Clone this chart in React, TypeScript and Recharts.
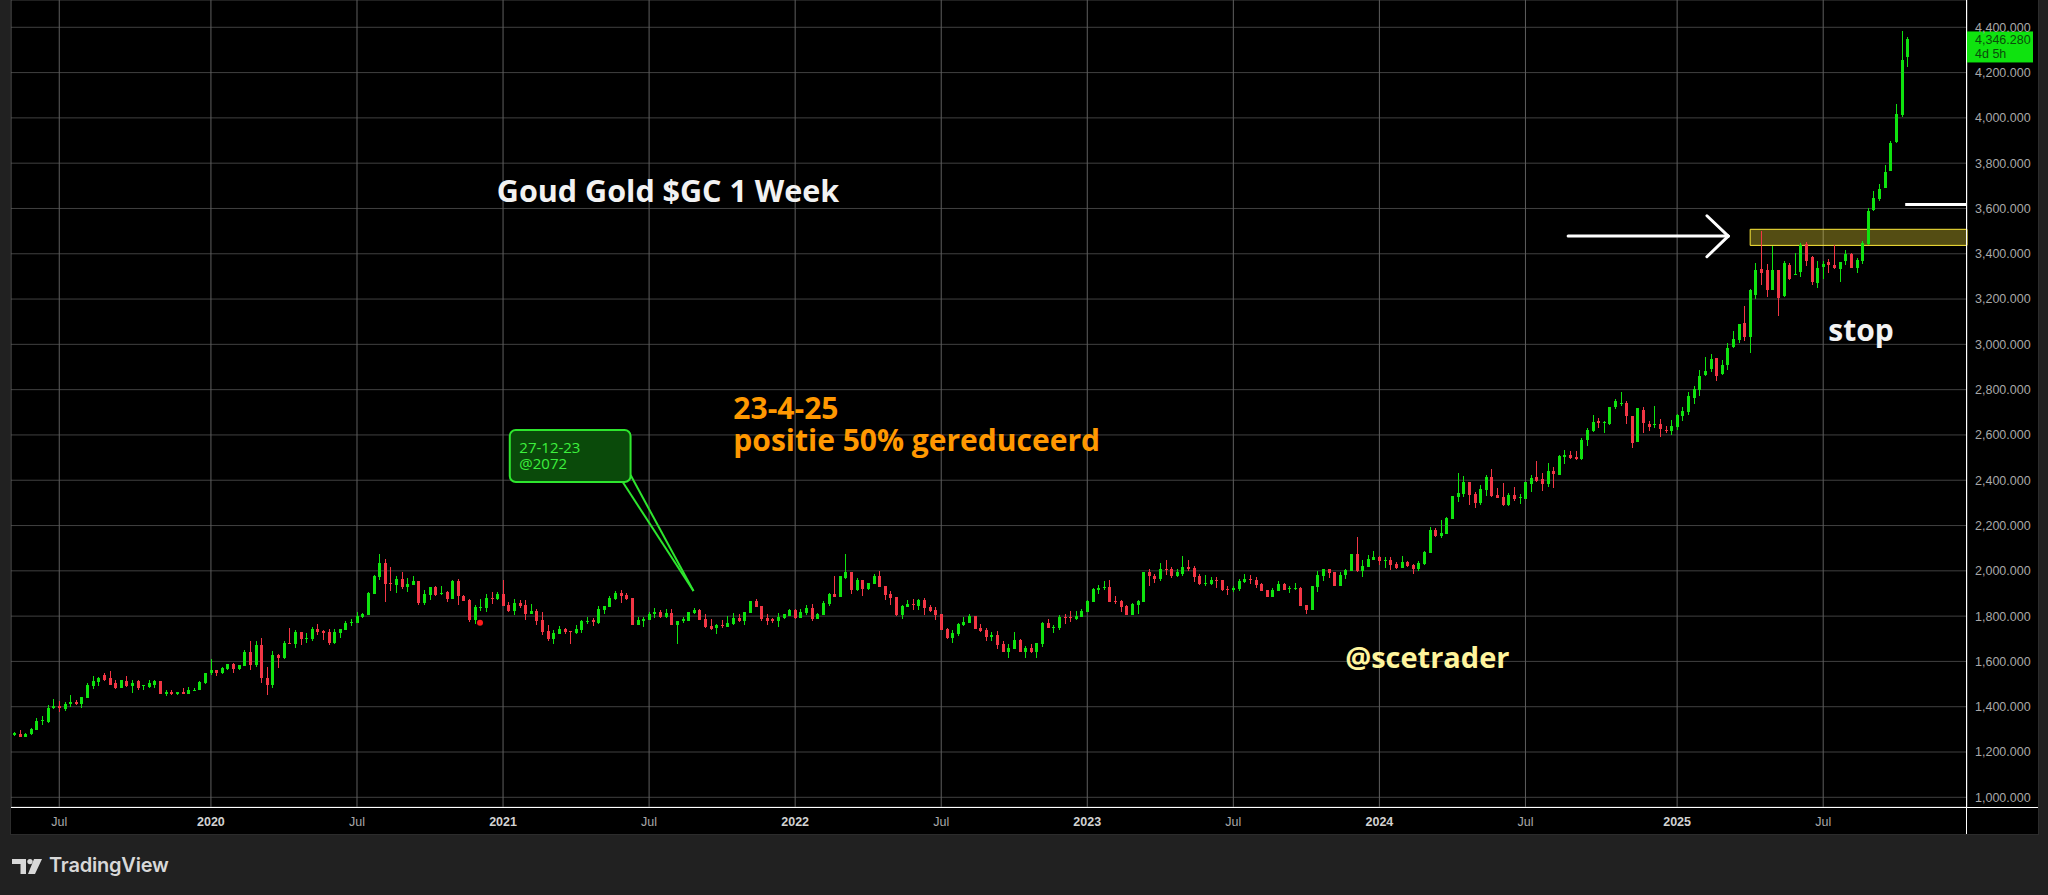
import React from 'react';
import {
  ComposedChart,
  Bar,
  XAxis,
  YAxis,
  CartesianGrid,
  ReferenceArea,
  ReferenceLine,
  ReferenceDot,
} from 'recharts';

// weekly GC candles, first bar = week of 6 May 2019
const START = '2019-05-06';

const opens = [
  1273, 1281, 1268, 1278, 1299, 1336, 1333, 1394, 1405, 1391, 1410, 1423, 1410, 1438, 1490, 1507, 1538, 1525, 1503, 1481,
  1512, 1490, 1512, 1490, 1485, 1498, 1512, 1454, 1467, 1458, 1463, 1454, 1472, 1472, 1503, 1547, 1560, 1551, 1565, 1587,
  1565, 1578, 1640, 1582, 1671, 1529, 1494, 1627, 1613, 1680, 1675, 1728, 1697, 1697, 1742, 1733, 1728, 1680, 1724, 1737,
  1768, 1768, 1795, 1804, 1897, 1972, 2034, 1945, 1936, 1966, 1930, 1939, 1953, 1859, 1895, 1930, 1899, 1908, 1877, 1953,
  1890, 1873, 1784, 1837, 1837, 1881, 1877, 1899, 1850, 1824, 1859, 1850, 1810, 1824, 1784, 1735, 1699, 1721, 1744, 1735,
  1726, 1739, 1775, 1784, 1770, 1828, 1841, 1877, 1904, 1895, 1881, 1761, 1779, 1784, 1810, 1819, 1797, 1815, 1761, 1779,
  1779, 1815, 1828, 1788, 1757, 1748, 1761, 1753, 1766, 1793, 1779, 1815, 1868, 1846, 1793, 1788, 1779, 1793, 1801, 1828,
  1793, 1815, 1837, 1788, 1806, 1855, 1899, 1886, 1970, 1993, 1917, 1961, 1921, 1944, 1975, 1935, 1899, 1886, 1806, 1841,
  1855, 1846, 1873, 1841, 1828, 1810, 1744, 1704, 1721, 1761, 1770, 1801, 1748, 1739, 1708, 1717, 1677, 1641, 1655, 1695,
  1641, 1659, 1641, 1677, 1770, 1748, 1748, 1797, 1797, 1788, 1797, 1819, 1864, 1917, 1926, 1930, 1868, 1868, 1846, 1806,
  1850, 1864, 1993, 1979, 1966, 2010, 2006, 1979, 1987, 2017, 2013, 1978, 1943, 1943, 1960, 1960, 1920, 1916, 1920, 1951,
  1965, 1960, 1943, 1916, 1885, 1912, 1943, 1920, 1920, 1925, 1850, 1828, 1929, 1978, 2009, 1995, 1934, 1982, 2000, 2075,
  2000, 2017, 2048, 2061, 2044, 2048, 2031, 2013, 2039, 2026, 2009, 2031, 2079, 2180, 2154, 2163, 2229, 2326, 2339, 2392,
  2339, 2299, 2357, 2414, 2335, 2326, 2291, 2335, 2321, 2317, 2383, 2414, 2405, 2383, 2440, 2423, 2502, 2512, 2503, 2494,
  2578, 2618, 2662, 2653, 2649, 2724, 2737, 2742, 2684, 2569, 2710, 2649, 2644, 2649, 2622, 2618, 2635, 2684, 2702, 2763,
  2799, 2865, 2891, 2940, 2869, 2909, 2988, 3019, 3094, 3032, 3218, 3332, 3328, 3240, 3328, 3213, 3350, 3306, 3319, 3443,
  3385, 3271, 3341, 3363, 3350, 3332, 3368, 3399, 3337, 3368, 3443, 3593, 3641, 3690, 3765, 3893, 4012, 4268,
];

const highs = [
  1290, 1299, 1286, 1305, 1348, 1357, 1408, 1436, 1426, 1422, 1450, 1430, 1445, 1506, 1534, 1531, 1550, 1556, 1520, 1516,
  1534, 1516, 1516, 1498, 1516, 1516, 1512, 1472, 1476, 1463, 1481, 1485, 1481, 1512, 1551, 1609, 1560, 1574, 1587, 1591,
  1582, 1649, 1689, 1689, 1702, 1574, 1644, 1631, 1689, 1746, 1737, 1728, 1724, 1750, 1764, 1737, 1742, 1742, 1742, 1777,
  1786, 1817, 1812, 1905, 1981, 2074, 2052, 2016, 1976, 1997, 1970, 1975, 1957, 1917, 1930, 1935, 1935, 1913, 1961, 1966,
  1895, 1877, 1850, 1877, 1899, 1908, 1908, 1961, 1864, 1877, 1873, 1873, 1855, 1833, 1819, 1761, 1739, 1757, 1748, 1735,
  1761, 1784, 1797, 1793, 1846, 1846, 1890, 1913, 1917, 1904, 1881, 1797, 1797, 1819, 1837, 1828, 1833, 1833, 1779, 1797,
  1819, 1837, 1833, 1810, 1788, 1766, 1784, 1801, 1815, 1810, 1819, 1868, 1877, 1846, 1810, 1793, 1815, 1810, 1833, 1833,
  1833, 1850, 1855, 1815, 1868, 1904, 1975, 1975, 2073, 1993, 1970, 1961, 1948, 1984, 2001, 1935, 1913, 1886, 1850, 1873,
  1877, 1877, 1881, 1850, 1841, 1810, 1748, 1739, 1770, 1797, 1810, 1801, 1766, 1748, 1730, 1735, 1690, 1677, 1730, 1699,
  1668, 1677, 1681, 1775, 1788, 1761, 1806, 1810, 1824, 1824, 1833, 1873, 1926, 1939, 1953, 1961, 1890, 1873, 1850, 1859,
  1873, 1993, 2010, 1988, 2033, 2050, 2019, 2010, 2066, 2048, 2022, 1987, 1982, 1973, 1973, 1960, 1934, 1934, 1965, 1987,
  1982, 1973, 1947, 1916, 1925, 1956, 1947, 1934, 1947, 1929, 1850, 1934, 2000, 2009, 2009, 1995, 1995, 2009, 2075, 2150,
  2048, 2070, 2088, 2066, 2061, 2061, 2039, 2066, 2044, 2031, 2044, 2088, 2194, 2189, 2224, 2238, 2330, 2431, 2418, 2392,
  2348, 2379, 2423, 2449, 2365, 2387, 2343, 2370, 2339, 2392, 2423, 2484, 2431, 2475, 2458, 2511, 2533, 2530, 2530, 2587,
  2631, 2689, 2675, 2662, 2724, 2759, 2790, 2750, 2684, 2719, 2724, 2662, 2728, 2671, 2640, 2666, 2693, 2724, 2790, 2816,
  2887, 2944, 2957, 2940, 2931, 3006, 3059, 3090, 3169, 3244, 3359, 3500, 3354, 3434, 3328, 3368, 3359, 3403, 3447, 3452,
  3390, 3368, 3368, 3377, 3438, 3363, 3416, 3403, 3381, 3456, 3602, 3677, 3707, 3791, 3897, 4060, 4382, 4356,
];

const lows = [
  1271, 1268, 1268, 1274, 1299, 1318, 1330, 1394, 1376, 1383, 1397, 1410, 1397, 1438, 1476, 1490, 1516, 1498, 1481, 1481,
  1485, 1458, 1472, 1476, 1481, 1481, 1454, 1445, 1454, 1450, 1454, 1454, 1467, 1472, 1503, 1538, 1534, 1543, 1560, 1547,
  1560, 1578, 1560, 1574, 1503, 1450, 1481, 1569, 1609, 1675, 1658, 1671, 1680, 1689, 1715, 1693, 1671, 1675, 1702, 1737,
  1755, 1768, 1790, 1804, 1897, 1958, 1861, 1910, 1901, 1921, 1908, 1935, 1850, 1850, 1873, 1890, 1895, 1864, 1877, 1850,
  1868, 1775, 1766, 1824, 1819, 1855, 1873, 1846, 1819, 1806, 1837, 1784, 1810, 1761, 1717, 1690, 1677, 1721, 1721, 1677,
  1721, 1726, 1766, 1757, 1766, 1810, 1841, 1873, 1859, 1873, 1761, 1761, 1753, 1784, 1793, 1793, 1793, 1761, 1677, 1770,
  1779, 1810, 1784, 1748, 1739, 1721, 1748, 1753, 1761, 1775, 1761, 1815, 1841, 1779, 1761, 1770, 1753, 1788, 1801, 1788,
  1793, 1806, 1779, 1788, 1806, 1846, 1881, 1886, 1961, 1895, 1913, 1890, 1917, 1944, 1930, 1873, 1850, 1801, 1788, 1841,
  1828, 1828, 1806, 1819, 1784, 1739, 1699, 1681, 1713, 1757, 1770, 1744, 1730, 1690, 1690, 1655, 1641, 1615, 1655, 1641,
  1615, 1637, 1615, 1664, 1748, 1726, 1739, 1766, 1775, 1784, 1797, 1819, 1864, 1899, 1913, 1864, 1855, 1819, 1806, 1806,
  1810, 1864, 1935, 1948, 1953, 1984, 1970, 1975, 1978, 2000, 1951, 1938, 1934, 1938, 1925, 1912, 1894, 1907, 1912, 1947,
  1943, 1925, 1912, 1885, 1885, 1912, 1916, 1903, 1916, 1846, 1810, 1828, 1907, 1956, 1969, 1934, 1934, 1965, 2000, 1995,
  1973, 2017, 2048, 2026, 2013, 2004, 2009, 2013, 2017, 1987, 2000, 2026, 2079, 2150, 2145, 2163, 2229, 2304, 2326, 2291,
  2277, 2291, 2330, 2326, 2321, 2286, 2286, 2308, 2295, 2317, 2348, 2392, 2352, 2370, 2365, 2423, 2471, 2495, 2490, 2490,
  2551, 2613, 2631, 2609, 2644, 2715, 2728, 2649, 2543, 2569, 2609, 2618, 2631, 2591, 2609, 2600, 2622, 2662, 2688, 2737,
  2774, 2860, 2878, 2838, 2865, 2887, 2984, 3006, 3015, 2962, 3200, 3262, 3209, 3240, 3125, 3209, 3284, 3306, 3297, 3346,
  3262, 3249, 3288, 3315, 3332, 3275, 3350, 3337, 3315, 3354, 3438, 3588, 3632, 3690, 3765, 3888, 4003, 4224,
];

const closes = [
  1283, 1268, 1281, 1302, 1339, 1342, 1396, 1405, 1394, 1414, 1423, 1410, 1441, 1494, 1512, 1525, 1516, 1498, 1481, 1516,
  1490, 1503, 1481, 1494, 1503, 1512, 1454, 1467, 1454, 1463, 1458, 1476, 1476, 1507, 1551, 1560, 1551, 1569, 1587, 1565,
  1582, 1640, 1582, 1671, 1525, 1494, 1627, 1613, 1680, 1675, 1728, 1697, 1702, 1742, 1728, 1724, 1680, 1728, 1742, 1768,
  1773, 1799, 1808, 1901, 1976, 2034, 1941, 1941, 1963, 1930, 1944, 1953, 1859, 1899, 1930, 1895, 1904, 1877, 1953, 1890,
  1868, 1784, 1841, 1841, 1881, 1877, 1899, 1846, 1824, 1859, 1846, 1810, 1824, 1779, 1730, 1699, 1726, 1744, 1730, 1730,
  1744, 1779, 1779, 1775, 1833, 1846, 1881, 1904, 1890, 1877, 1761, 1784, 1788, 1810, 1819, 1797, 1815, 1761, 1779, 1788,
  1819, 1828, 1784, 1753, 1744, 1761, 1757, 1770, 1793, 1779, 1819, 1868, 1841, 1788, 1779, 1779, 1797, 1810, 1828, 1793,
  1819, 1837, 1788, 1810, 1859, 1899, 1886, 1975, 1993, 1917, 1961, 1921, 1948, 1975, 1930, 1895, 1881, 1806, 1846, 1855,
  1850, 1873, 1837, 1824, 1806, 1739, 1704, 1726, 1766, 1775, 1801, 1744, 1735, 1708, 1717, 1673, 1641, 1659, 1695, 1641,
  1659, 1641, 1681, 1770, 1748, 1753, 1797, 1793, 1793, 1801, 1824, 1868, 1921, 1926, 1930, 1864, 1864, 1841, 1806, 1855,
  1868, 1993, 1975, 1966, 2010, 2006, 1979, 1993, 2017, 2009, 1973, 1943, 1947, 1960, 1956, 1916, 1916, 1925, 1956, 1965,
  1960, 1938, 1912, 1885, 1916, 1943, 1916, 1925, 1925, 1846, 1828, 1934, 1982, 2009, 1991, 1934, 1982, 2004, 2075, 2000,
  2022, 2053, 2061, 2044, 2048, 2026, 2013, 2039, 2022, 2009, 2035, 2083, 2180, 2154, 2167, 2233, 2330, 2343, 2392, 2335,
  2299, 2361, 2414, 2330, 2321, 2291, 2335, 2317, 2326, 2392, 2409, 2396, 2383, 2440, 2427, 2506, 2511, 2499, 2494, 2578,
  2622, 2658, 2653, 2657, 2724, 2750, 2742, 2684, 2565, 2719, 2653, 2635, 2649, 2627, 2618, 2640, 2688, 2706, 2772, 2803,
  2860, 2882, 2935, 2860, 2909, 2984, 3024, 3090, 3032, 3240, 3328, 3315, 3240, 3328, 3204, 3359, 3288, 3310, 3438, 3368,
  3275, 3337, 3354, 3350, 3337, 3363, 3399, 3337, 3372, 3447, 3588, 3646, 3685, 3760, 3888, 4016, 4255, 4346.28,
];

const tickDates = [
  '2019-07-01', '2020-01-01', '2020-07-01', '2021-01-01', '2021-07-01', '2022-01-01', '2022-07-01',
  '2023-01-01', '2023-07-01', '2024-01-01', '2024-07-01', '2025-01-01', '2025-07-01',
];
const tickLabels = ['Jul', '2020', 'Jul', '2021', 'Jul', '2022', 'Jul', '2023', 'Jul', '2024', 'Jul', '2025', 'Jul'];

const priceTicks = [1000, 1200, 1400, 1600, 1800, 2000, 2200, 2400, 2600, 2800, 3000, 3200, 3400, 3600, 3800, 4000, 4200, 4400];

const lastPrice = 4346.28;
const countdown = '4d 5h';

const WEEK = 7 * 24 * 3600 * 1000;
const tickIdx = tickDates.map((d) => Math.ceil((Date.parse(d) - Date.parse(START)) / WEEK));
const labelOf: Record<number, string> = {};
tickIdx.forEach((t, k) => (labelOf[t] = tickLabels[k]));

const n = Math.min(opens.length, highs.length, lows.length, closes.length);
const candles = Array.from({ length: n }, (_, i) => ({
  i,
  open: opens[i],
  high: highs[i],
  low: lows[i],
  close: closes[i],
}));

const X_MIN = -0.59;
const X_MAX = 347.6;
const Y_MIN = 957.2;
const Y_MAX = 4520.5;

const GREEN = '#0fe30f';
const RED = '#f23645';
const NOTE_FONT = '"Open Sans", "Noto Sans", sans-serif';
const AXIS_FONT = '"Liberation Sans", Arial, sans-serif';

const fmtPrice = (v: number) =>
  v.toLocaleString('en-US', { minimumFractionDigits: 3, maximumFractionDigits: 3 });

const Candle = (props: any) => {
  const { x, y, width, height, payload } = props;
  if (!payload || x == null) return null;
  const { open, close, high, low } = payload;
  const top = Math.min(y, y + height);
  const h = Math.abs(height);
  const ppu = h / Math.max(high - low, 1e-6);
  const color = close >= open ? GREEN : RED;
  const cx = Math.round(x + width / 2);
  const bTop = Math.round(top + (high - Math.max(open, close)) * ppu);
  const bBot = Math.round(top + (high - Math.min(open, close)) * ppu);
  return (
    <g>
      <rect x={cx} y={Math.round(top)} width={1} height={Math.max(1, Math.round(h))} fill={color} />
      <rect x={cx - 1} y={bTop} width={3} height={Math.max(1, bBot - bTop)} fill={color} />
    </g>
  );
};

const TimeTick = (props: any) => {
  const { x, y, payload } = props;
  const label = labelOf[payload.value] ?? '';
  const isYear = /^\d{4}$/.test(label);
  return (
    <text
      x={x}
      y={y + 18.5}
      textAnchor="middle"
      fill={isYear ? '#d2d2d2' : '#a8a8a8'}
      fontSize={12.5}
      fontWeight={isYear ? 700 : 400}
      fontFamily={AXIS_FONT}
    >
      {label}
    </text>
  );
};

const Note = ({ cx, cy, lines, size, color, lh = 0, weight = 700, family = NOTE_FONT }: any) => (
  <text x={cx} y={cy} fill={color} fontSize={size} fontWeight={weight} fontFamily={family}>
    {lines.map((l: string, k: number) => (
      <tspan key={k} x={cx} dy={k === 0 ? 0 : lh}>
        {l}
      </tspan>
    ))}
  </text>
);

const PriceTag = (props: any) => {
  const vb = props.viewBox;
  if (!vb) return null;
  const right = vb.x + vb.width;
  const cy = vb.y;
  return (
    <g>
      <rect x={right} y={cy - 8} width={66} height={31} fill="#0fe30f" />
      <text x={right + 8} y={cy + 4.5} fill="#0b4d0b" fontSize={12.5} fontFamily={AXIS_FONT}>
        {fmtPrice(lastPrice)}
      </text>
      <text x={right + 8} y={cy + 18.5} fill="#0b4d0b" fontSize={12.5} fontFamily={AXIS_FONT}>
        {countdown}
      </text>
    </g>
  );
};

const white = { stroke: '#ffffff', strokeWidth: 3, strokeLinecap: 'round' as const };
const calloutGreen = '#2ee62e';

function TVLogo() {
  return (
    <div style={{ position: 'absolute', left: 12, top: 855, height: 20, display: 'flex', alignItems: 'center' }}>
      <svg width={32} height={17} viewBox="0 0 32 17">
        <rect x={0} y={2} width={14} height={5} fill="#d8d8d8" />
        <rect x={8.5} y={2} width={5.5} height={15} fill="#d8d8d8" />
        <circle cx={18} cy={4.6} r={2.7} fill="#d8d8d8" />
        <polygon points="22,2 30,2 23,17 16,17" fill="#d8d8d8" />
      </svg>
      <span
        style={{
          marginLeft: 5,
          color: '#d8d8d8',
          fontFamily: 'Inter, "Open Sans", sans-serif',
          fontWeight: 600,
          fontSize: 20,
          letterSpacing: -0.2,
          lineHeight: '20px',
        }}
      >
        TradingView
      </span>
    </div>
  );
}

export default function App() {
  return (
    <div style={{ position: 'relative', width: 2048, height: 895, background: '#212121', overflow: 'hidden' }}>
      <style>{'body{margin:0;background:#212121;}'}</style>
      <div
        style={{
          position: 'absolute',
          left: 11,
          top: 0,
          width: 2027,
          height: 834,
          background: '#000',
          boxShadow: '0 0 0 1px #2c2c2c',
        }}
      >
        <ComposedChart width={2027} height={834} data={candles} margin={{ top: 0, right: 0, bottom: 0, left: 0 }}>
          <CartesianGrid vertical={false} stroke="#404040" />
          <CartesianGrid horizontal={false} stroke="#5f5f5f" />
          <XAxis
            dataKey="i"
            type="number"
            domain={[X_MIN, X_MAX]}
            allowDataOverflow
            ticks={tickIdx}
            interval={0}
            tick={<TimeTick />}
            tickSize={0}
            tickMargin={0}
            axisLine={false}
            tickLine={false}
            height={27}
          />
          <YAxis
            orientation="right"
            type="number"
            domain={[Y_MIN, Y_MAX]}
            allowDataOverflow
            ticks={priceTicks}
            interval={0}
            tickFormatter={fmtPrice}
            tick={{ fill: '#a8a8a8', fontSize: 12.5, fontFamily: AXIS_FONT }}
            tickSize={0}
            tickMargin={8}
            axisLine={false}
            tickLine={false}
            width={71}
          />

          <ReferenceArea
            x1={309.0}
            x2={X_MAX}
            y1={3437}
            y2={3508}
            ifOverflow="visible"
            fill="#ffeb3b"
            fillOpacity={0.33}
            stroke="#ffeb3b"
            strokeWidth={1}
          />

          <Bar
            dataKey={(d: any) => [d.low, d.high]}
            barSize={3}
            shape={(p: any) => <Candle {...p} />}
            isAnimationActive={false}
          />

          <ReferenceDot x={82.9} y={1771} r={3} fill="#ff1a1a" stroke="none" />

          {/* arrow towards the breakout zone */}
          <ReferenceLine segment={[{ x: 276.6, y: 3478 }, { x: 305.1, y: 3478 }]} {...white} />
          <ReferenceLine segment={[{ x: 301.3, y: 3568 }, { x: 305.1, y: 3478 }]} {...white} />
          <ReferenceLine segment={[{ x: 301.3, y: 3387 }, { x: 305.1, y: 3478 }]} {...white} />
          <ReferenceLine segment={[{ x: 336.6, y: 3617 }, { x: X_MAX, y: 3617 }]} ifOverflow="visible" stroke="#fff" strokeWidth={3} />

          {/* callout 27-12-23 */}
          <ReferenceLine segment={[{ x: 108.3, y: 2392 }, { x: 120.9, y: 1911 }]} stroke={calloutGreen} strokeWidth={2} />
          <ReferenceLine segment={[{ x: 109.7, y: 2423 }, { x: 120.9, y: 1911 }]} stroke={calloutGreen} strokeWidth={2} />
          <ReferenceArea
            x1={88.2}
            x2={109.7}
            y1={2392}
            y2={2622}
            shape={(p: any) => (
              <rect x={p.x} y={p.y} width={p.width} height={p.height} rx={6} fill="#0a4a0a" stroke={calloutGreen} strokeWidth={2} />
            )}
          />
          <ReferenceDot
            x={89.9}
            y={2520}
            shape={(p: any) => (
              <Note cx={p.cx} cy={p.cy} lines={['27-12-23', '@2072']} size={15} lh={16} weight={400} color="#3df03d" />
            )}
          />

          <ReferenceDot
            x={85.9}
            y={3630}
            shape={(p: any) => <Note cx={p.cx} cy={p.cy} lines={['Goud Gold $GC 1 Week']} size={30.5} color="#f2f2f2" />}
          />
          <ReferenceDot
            x={128.0}
            y={2670}
            shape={(p: any) => (
              <Note cx={p.cx} cy={p.cy} lines={['23-4-25', 'positie 50% gereduceerd']} size={30} lh={32} color="#ff9800" />
            )}
          />
          <ReferenceDot
            x={322.9}
            y={3015}
            shape={(p: any) => <Note cx={p.cx} cy={p.cy} lines={['stop']} size={30} color="#f2f2f2" />}
          />
          <ReferenceDot
            x={236.9}
            y={1571}
            shape={(p: any) => <Note cx={p.cx} cy={p.cy} lines={['@scetrader']} size={29} color="#fff59d" />}
          />

          <ReferenceLine y={lastPrice} stroke="none" ifOverflow="visible" label={(p: any) => <PriceTag {...p} />} />
        </ComposedChart>
        {/* axis frame lines */}
        <div style={{ position: 'absolute', left: 0, top: 807, width: 2027, height: 1, background: '#fff' }} />
        <div style={{ position: 'absolute', left: 1955, top: 0, width: 1, height: 834, background: '#fff' }} />
      </div>
      <TVLogo />
    </div>
  );
}
